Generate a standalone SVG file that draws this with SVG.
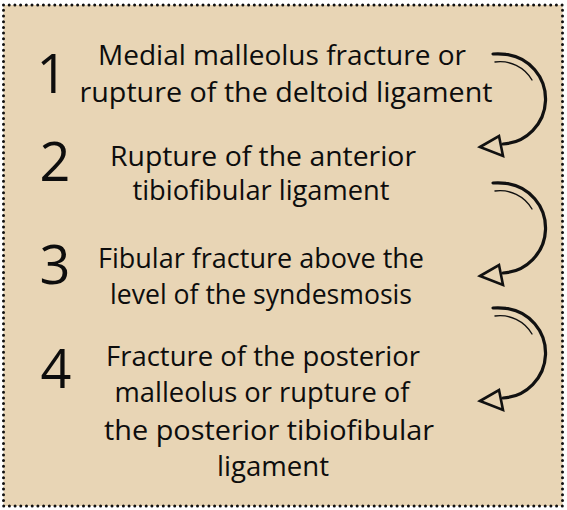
<svg xmlns="http://www.w3.org/2000/svg" width="567" height="510" viewBox="0 0 567 510">
<defs>
<style>
.t{font-family:"Open Sans","Noto Sans","Liberation Sans",sans-serif;font-size:27px;fill:#0d0d0d;text-anchor:middle}
.n{font-family:"Open Sans","Noto Sans","Liberation Sans",sans-serif;font-size:54px;fill:#0d0d0d;text-anchor:middle}
.arc{fill:none;stroke:#111;stroke-width:3.2;stroke-linecap:round}
.arc2{fill:none;stroke:#111;stroke-width:1.4;stroke-linecap:round}
.head{fill:#E8D5B5;stroke:#111;stroke-width:2.6;stroke-linejoin:miter}
</style>
</defs>
<rect x="0" y="0" width="567" height="510" fill="#fff"/>
<rect id="frame" x="3.5" y="5" width="559" height="501" fill="#E8D5B5" stroke="#111" stroke-width="3" stroke-dasharray="0 5.7" stroke-linecap="round"/>
<g id="step1">
<text class="n" x="52" y="93">1</text>
<text class="t" x="282" y="65" textLength="368" lengthAdjust="spacingAndGlyphs">Medial malleolus fracture or</text>
<text class="t" x="286" y="102" textLength="413" lengthAdjust="spacingAndGlyphs">rupture of the deltoid ligament</text>
</g>
<g id="step2">
<text class="n" x="55" y="181">2</text>
<text class="t" x="263" y="166" textLength="306" lengthAdjust="spacingAndGlyphs">Rupture of the anterior</text>
<text class="t" x="261" y="200" textLength="257" lengthAdjust="spacingAndGlyphs">tibiofibular ligament</text>
</g>
<g id="step3">
<text class="n" x="55" y="284">3</text>
<text class="t" x="261" y="268" textLength="326" lengthAdjust="spacingAndGlyphs">Fibular fracture above the</text>
<text class="t" x="261" y="304" textLength="302" lengthAdjust="spacingAndGlyphs">level of the syndesmosis</text>
</g>
<g id="step4">
<text class="n" x="56" y="388">4</text>
<text class="t" x="263" y="366" textLength="314" lengthAdjust="spacingAndGlyphs">Fracture of the posterior</text>
<text class="t" x="262" y="402" textLength="295" lengthAdjust="spacingAndGlyphs">malleolus or rupture of</text>
<text class="t" x="269" y="440" textLength="330" lengthAdjust="spacingAndGlyphs">the posterior tibiofibular</text>
<text class="t" x="273" y="476" textLength="112" lengthAdjust="spacingAndGlyphs">ligament</text>
</g>
<g id="connectors">
<g transform="translate(500,99)">
<path class="arc" d="M-7,-45 Q0,-45.5 6,-44.6 A45,45 0 0 1 3,45"/>
<path class="arc2" d="M-5,-37 A37,37 0 0 1 32,-19"/>
<polygon class="head" points="-20,48 -1,37 3,57"/>
</g>
<g transform="translate(500,228)">
<path class="arc" d="M-7,-45 Q0,-45.5 6,-44.6 A45,45 0 0 1 3,45"/>
<path class="arc2" d="M-5,-37 A37,37 0 0 1 32,-19"/>
<polygon class="head" points="-20,48 -1,37 3,57"/>
</g>
<g transform="translate(500,353)">
<path class="arc" d="M-7,-45 Q0,-45.5 6,-44.6 A45,45 0 0 1 3,45"/>
<path class="arc2" d="M-5,-37 A37,37 0 0 1 32,-19"/>
<polygon class="head" points="-20,48 -1,37 3,57"/>
</g>
</g>
</svg>
